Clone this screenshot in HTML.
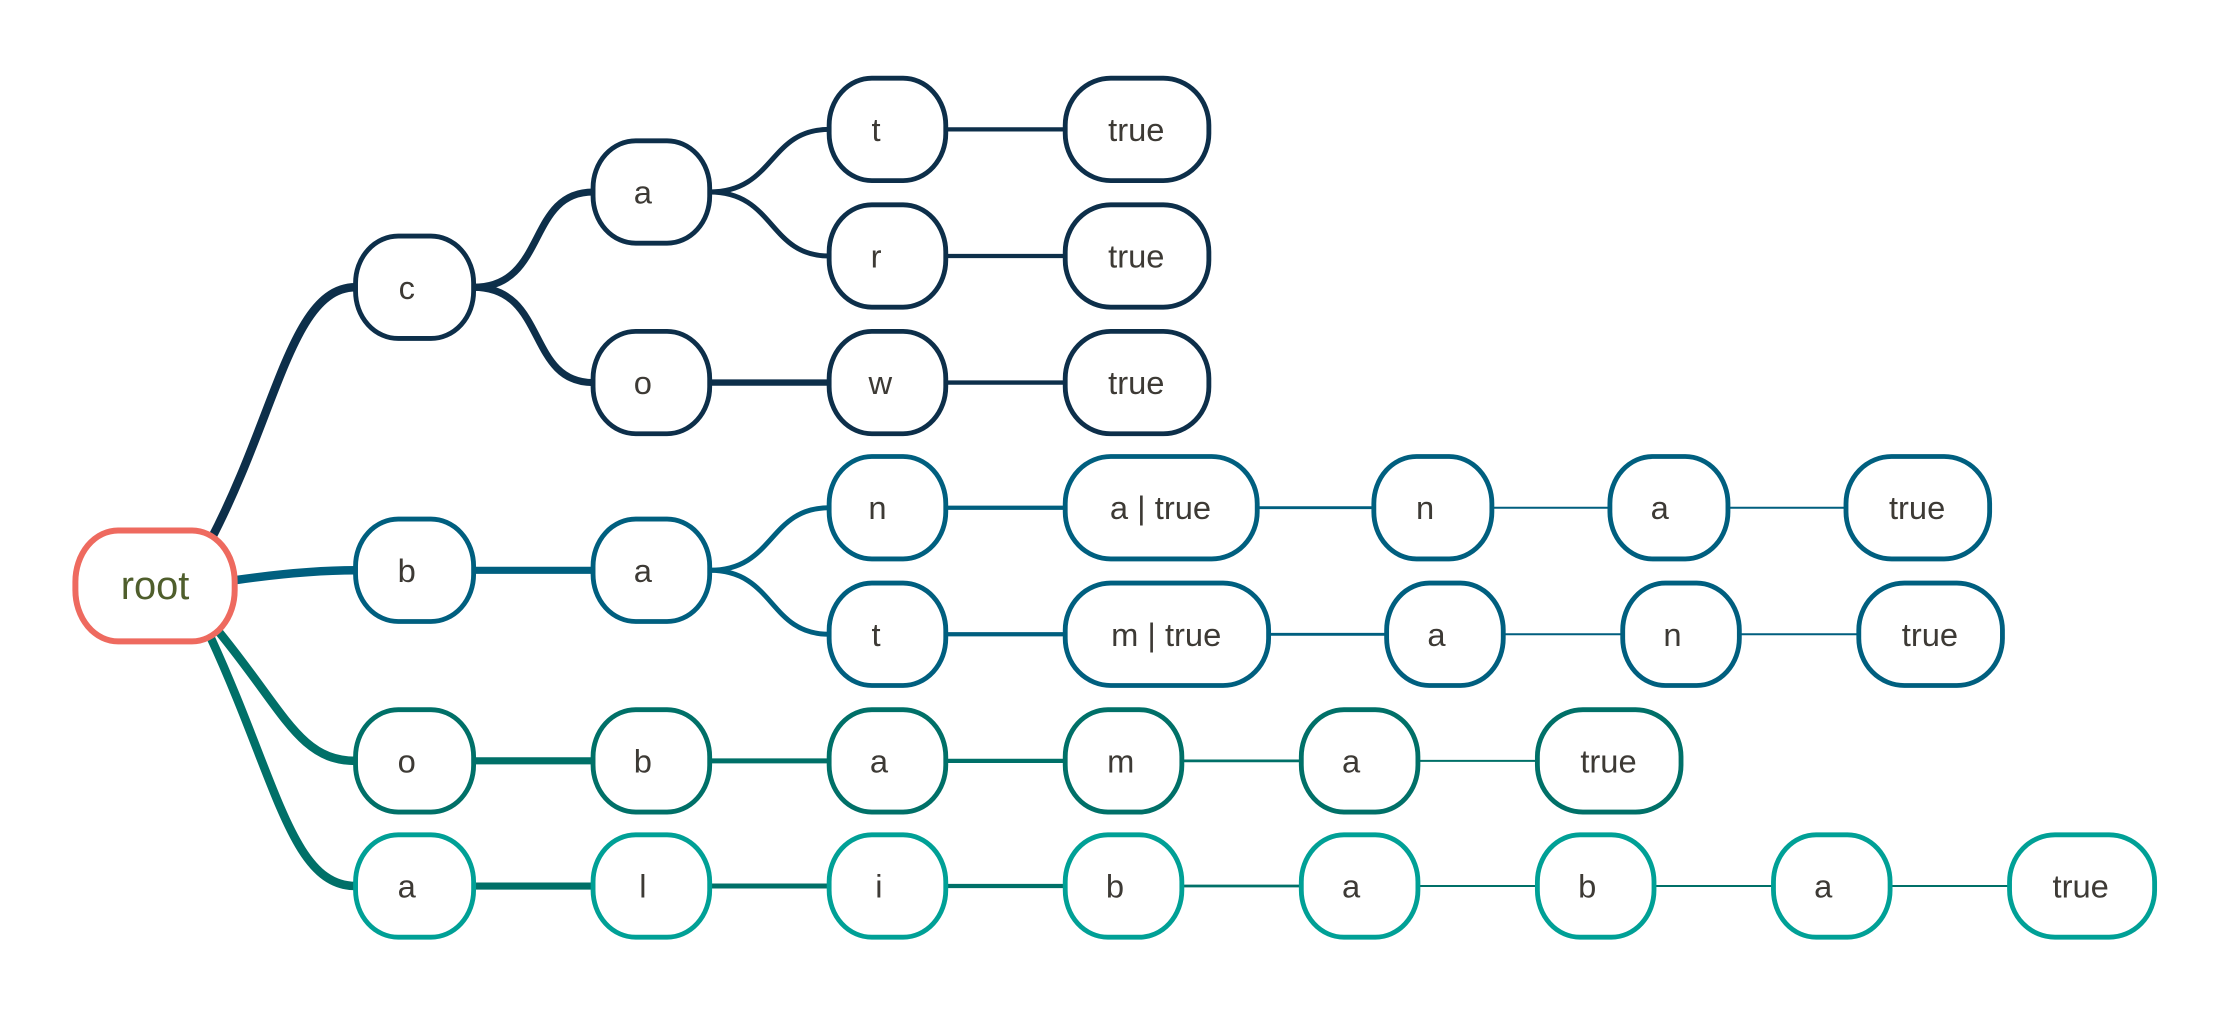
<!DOCTYPE html>
<html><head><meta charset="utf-8"><style>html,body{margin:0;padding:0;background:#fff}svg{display:block}</style></head>
<body>
<svg xmlns="http://www.w3.org/2000/svg" width="2230" height="1016" viewBox="0 0 1568 714.4">
<rect width="1568" height="714.4" fill="#fff"/>
<g fill="none" stroke-linecap="round">
<path d="M148 380 C195 290,205 202,250 202" stroke="#0d2f4a" stroke-width="6"/>
<path d="M165 408 C200 403,225 401,250 401" stroke="#005f7f" stroke-width="6"/>
<path d="M152 442 C200 500,210 535,250 535" stroke="#007068" stroke-width="6"/>
<path d="M148 448 C195 550,205 623,250 623" stroke="#007068" stroke-width="6"/>
<path d="M333 202 C385 202,370 135,417 135" stroke="#0d2f4a" stroke-width="5"/>
<path d="M333 202 C385 202,370 269,417 269" stroke="#0d2f4a" stroke-width="5"/>
<path d="M499 135 C545 135,540 91,583 91" stroke="#0d2f4a" stroke-width="3.5"/>
<path d="M499 135 C545 135,540 180,583 180" stroke="#0d2f4a" stroke-width="3.5"/>
<path d="M499 269 H583" stroke="#0d2f4a" stroke-width="4.5"/>
<path d="M665 91 H749 M665 180 H749 M665 269 H749" stroke="#0d2f4a" stroke-width="3"/>
<path d="M333 401 H417" stroke="#005f7f" stroke-width="5"/>
<path d="M499 401 C545 401,540 357,583 357" stroke="#005f7f" stroke-width="3.5"/>
<path d="M499 401 C545 401,540 446,583 446" stroke="#005f7f" stroke-width="3.5"/>
<path d="M665 357 H749 M665 446 H749" stroke="#005f7f" stroke-width="3"/>
<path d="M884 357 H966 M892 446 H975" stroke="#005f7f" stroke-width="2"/>
<path d="M1049 357 H1132 M1215 357 H1298 M1057 446 H1141 M1223 446 H1307" stroke="#005f7f" stroke-width="1.4"/>
<path d="M333 535 H417" stroke="#007068" stroke-width="5"/>
<path d="M499 535 H583" stroke="#007068" stroke-width="3.5"/>
<path d="M665 535 H749" stroke="#007068" stroke-width="3"/>
<path d="M831 535 H915" stroke="#007068" stroke-width="2"/>
<path d="M997 535 H1081" stroke="#007068" stroke-width="1.4"/>
<path d="M333 623 H417" stroke="#007068" stroke-width="5"/>
<path d="M499 623 H583" stroke="#007068" stroke-width="3.5"/>
<path d="M665 623 H749" stroke="#007068" stroke-width="3"/>
<path d="M831 623 H915" stroke="#007068" stroke-width="2"/>
<path d="M997 623 H1081 M1163 623 H1247 M1329 623 H1413" stroke="#007068" stroke-width="1.4"/>
</g>
<g stroke-width="3.4" fill="#fff">
<rect x="53" y="373" width="112" height="78" rx="30" ry="36" stroke="#ee6a5f" stroke-width="4.2"/>
<g stroke="#0d2f4a">
<rect x="250" y="166" width="83" height="72" rx="30" ry="33"/>
<rect x="417" y="99" width="82" height="72" rx="30" ry="33"/>
<rect x="417" y="233" width="82" height="72" rx="30" ry="33"/>
<rect x="583" y="55" width="82" height="72" rx="30" ry="33"/>
<rect x="583" y="144" width="82" height="72" rx="30" ry="33"/>
<rect x="583" y="233" width="82" height="72" rx="30" ry="33"/>
<rect x="749" y="55" width="101" height="72" rx="32" ry="33"/>
<rect x="749" y="144" width="101" height="72" rx="32" ry="33"/>
<rect x="749" y="233" width="101" height="72" rx="32" ry="33"/>
</g>
<g stroke="#005f7f">
<rect x="250" y="365" width="83" height="72" rx="30" ry="33"/>
<rect x="417" y="365" width="82" height="72" rx="30" ry="33"/>
<rect x="583" y="321" width="82" height="72" rx="30" ry="33"/>
<rect x="583" y="410" width="82" height="72" rx="30" ry="33"/>
<rect x="749" y="321" width="135" height="72" rx="32" ry="33"/>
<rect x="749" y="410" width="143" height="72" rx="32" ry="33"/>
<rect x="966" y="321" width="83" height="72" rx="30" ry="33"/>
<rect x="1132" y="321" width="83" height="72" rx="30" ry="33"/>
<rect x="1298" y="321" width="101" height="72" rx="32" ry="33"/>
<rect x="975" y="410" width="82" height="72" rx="30" ry="33"/>
<rect x="1141" y="410" width="82" height="72" rx="30" ry="33"/>
<rect x="1307" y="410" width="101" height="72" rx="32" ry="33"/>
</g>
<g stroke="#007068">
<rect x="250" y="499" width="83" height="72" rx="30" ry="33"/>
<rect x="417" y="499" width="82" height="72" rx="30" ry="33"/>
<rect x="583" y="499" width="82" height="72" rx="30" ry="33"/>
<rect x="749" y="499" width="82" height="72" rx="30" ry="33"/>
<rect x="915" y="499" width="82" height="72" rx="30" ry="33"/>
<rect x="1081" y="499" width="101" height="72" rx="32" ry="33"/>
</g>
<g stroke="#00a096">
<rect x="250" y="587" width="83" height="72" rx="30" ry="33"/>
<rect x="417" y="587" width="82" height="72" rx="30" ry="33"/>
<rect x="583" y="587" width="82" height="72" rx="30" ry="33"/>
<rect x="749" y="587" width="82" height="72" rx="30" ry="33"/>
<rect x="915" y="587" width="82" height="72" rx="30" ry="33"/>
<rect x="1081" y="587" width="82" height="72" rx="30" ry="33"/>
<rect x="1247" y="587" width="82" height="72" rx="30" ry="33"/>
<rect x="1413" y="587" width="102" height="72" rx="32" ry="33"/>
</g>
</g>
<g font-family="Liberation Sans, sans-serif" font-size="23" fill="#3d3a35" text-anchor="middle" dominant-baseline="central">
<text x="109" y="412" font-size="28" fill="#4f5e2c">root</text>
<text x="286" y="202">c</text>
<text x="452" y="135">a</text>
<text x="452" y="269">o</text>
<text x="616" y="91">t</text>
<text x="616" y="180">r</text>
<text x="619" y="269">w</text>
<text x="799" y="91">true</text>
<text x="799" y="180">true</text>
<text x="799" y="269">true</text>
<text x="286" y="401">b</text>
<text x="452" y="401">a</text>
<text x="617" y="357">n</text>
<text x="616" y="446">t</text>
<text x="816" y="357">a | true</text>
<text x="820" y="446">m | true</text>
<text x="1002" y="357">n</text>
<text x="1167" y="357">a</text>
<text x="1348" y="357">true</text>
<text x="1010" y="446">a</text>
<text x="1176" y="446">n</text>
<text x="1357" y="446">true</text>
<text x="286" y="535">o</text>
<text x="452" y="535">b</text>
<text x="618" y="535">a</text>
<text x="788" y="535">m</text>
<text x="950" y="535">a</text>
<text x="1131" y="535">true</text>
<text x="286" y="623">a</text>
<text x="452" y="623">l</text>
<text x="618" y="623">i</text>
<text x="784" y="623">b</text>
<text x="950" y="623">a</text>
<text x="1116" y="623">b</text>
<text x="1282" y="623">a</text>
<text x="1463" y="623">true</text>
</g>
</svg>
</body></html>
